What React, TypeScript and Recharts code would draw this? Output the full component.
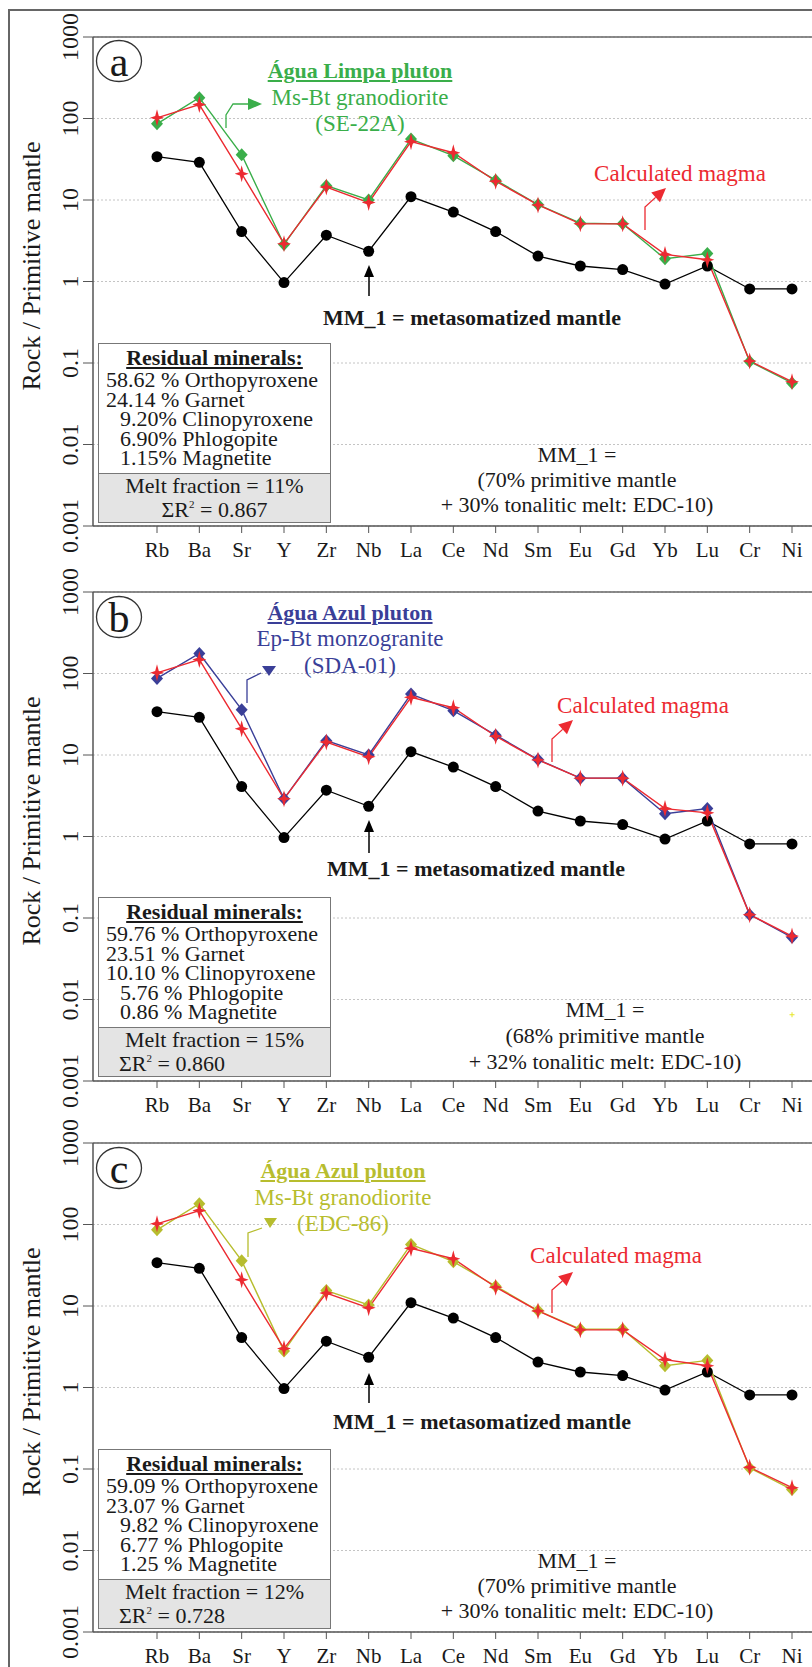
import React from "react";
import { CartesianGrid, Line, LineChart, ReferenceLine, XAxis, YAxis } from "recharts";

const FONT = '"Liberation Serif", "Times New Roman", serif';

const elements = ["Rb", "Ba", "Sr", "Y", "Zr", "Nb", "La", "Ce", "Nd", "Sm", "Eu", "Gd", "Yb", "Lu", "Cr", "Ni"];
const yTicks = [0.001, 0.01, 0.1, 1, 10, 100, 1000];

// MM_1 = metasomatized mantle (same source in all three panels)
const mm1 = [34, 29, 4.1, 0.97, 3.7, 2.35, 11, 7.1, 4.1, 2.05, 1.55, 1.4, 0.93, 1.55, 0.81, 0.81];

// panel a: Agua Limpa pluton, SE-22A
const sampleA = [86, 180, 36, 2.85, 15, 10, 56, 35, 17.5, 8.8, 5.2, 5.1, 1.9, 2.2, 0.104, 0.057];
const calcA = [102, 148, 21, 2.9, 14.4, 9.3, 52, 38, 17, 8.7, 5.1, 5.1, 2.15, 1.85, 0.106, 0.059];

// panel b: Agua Azul pluton, SDA-01
const sampleB = [87, 176, 36, 2.9, 15, 10, 56, 35, 17.5, 8.8, 5.2, 5.2, 1.9, 2.2, 0.11, 0.058];
const calcB = [102, 148, 21, 2.9, 14.4, 9.5, 51, 38, 17, 8.7, 5.2, 5.2, 2.2, 1.95, 0.11, 0.06];
const strayB = [null, null, null, null, null, null, null, null, null, null, null, null, null, null, null, 0.0065];

// panel c: Agua Azul pluton, EDC-86
const sampleC = [86, 180, 36, 2.8, 15.5, 10.3, 57, 35, 17.5, 8.8, 5.2, 5.2, 1.85, 2.15, 0.103, 0.056];
const calcC = [102, 148, 21, 3.0, 14.4, 9.5, 51, 38, 17, 8.7, 5.1, 5.1, 2.2, 1.85, 0.105, 0.059];

type Pt = number[];
interface PanelCfg {
  top: number;
  letter: string;
  letterY: number;
  color: string;
  sample: number[];
  calc: number[];
  stray?: (number | null)[];
  title: string;
  rock: string;
  code: string;
  titleX: number;
  titleYs: number[];
  samplePath: Pt[];
  sampleHead: Pt[];
  calcPos: Pt;
  calcPath: Pt[];
  mmPos: Pt;
  mmArrow: Pt[];
  boxTop: number;
  residual: { text: string; indent: boolean }[];
  melt: string;
  r2: string;
  r2Left: boolean;
  compX: number;
  compYs: number[];
  comp: string[];
}

const panels: PanelCfg[] = [
  {
    top: 37, letter: "a", letterY: 24, color: "#3aae4a", sample: sampleA, calc: calcA,
    title: "Água Limpa pluton", rock: "Ms-Bt granodiorite", code: "(SE-22A)", titleX: 360, titleYs: [34, 60, 86],
    samplePath: [[226, 91], [226, 78], [233, 67], [248, 67]], sampleHead: [[248, 61], [248, 73], [262, 67]],
    calcPos: [680, 136], calcPath: [[645, 193], [645, 170], [666, 151]],
    mmPos: [472, 281], mmArrow: [[369, 259], [369, 228]], boxTop: 306,
    residual: [
      { text: "58.62 % Orthopyroxene", indent: false },
      { text: "24.14 % Garnet", indent: false },
      { text: "9.20% Clinopyroxene", indent: true },
      { text: "6.90% Phlogopite", indent: true },
      { text: "1.15% Magnetite", indent: true },
    ],
    melt: "11", r2: "0.867", r2Left: false,
    compX: 577, compYs: [418, 443, 468], comp: ["MM_1 =", "(70% primitive mantle", "+ 30% tonalitic melt: EDC-10)"],
  },
  {
    top: 592, letter: "b", letterY: 25, color: "#3a3f98", sample: sampleB, calc: calcB, stray: strayB,
    title: "Água Azul pluton", rock: "Ep-Bt monzogranite", code: "(SDA-01)", titleX: 350, titleYs: [21, 46, 73],
    samplePath: [[247, 111], [247, 88], [261, 81]], sampleHead: [[262, 74], [276, 74], [269, 84]],
    calcPos: [643, 113], calcPath: [[552, 170], [552, 147], [573, 128]],
    mmPos: [476, 277], mmArrow: [[369, 261], [369, 228]], boxTop: 305,
    residual: [
      { text: "59.76 % Orthopyroxene", indent: false },
      { text: "23.51 % Garnet", indent: false },
      { text: "10.10 % Clinopyroxene", indent: false },
      { text: "5.76 % Phlogopite", indent: true },
      { text: "0.86 % Magnetite", indent: true },
    ],
    melt: "15", r2: "0.860", r2Left: true,
    compX: 605, compYs: [418, 444, 470], comp: ["MM_1 =", "(68% primitive mantle", "+ 32% tonalitic melt: EDC-10)"],
  },
  {
    top: 1143, letter: "c", letterY: 25, color: "#b7bd2e", sample: sampleC, calc: calcC,
    title: "Água Azul pluton", rock: "Ms-Bt granodiorite", code: "(EDC-86)", titleX: 343, titleYs: [28, 54, 80],
    samplePath: [[248, 114], [248, 90], [262, 85]], sampleHead: [[264, 75], [277, 75], [270, 85]],
    calcPos: [616, 112], calcPath: [[552, 170], [552, 147], [573, 129]],
    mmPos: [482, 279], mmArrow: [[369, 260], [369, 230]], boxTop: 306,
    residual: [
      { text: "59.09 % Orthopyroxene", indent: false },
      { text: "23.07 % Garnet", indent: false },
      { text: "9.82 % Clinopyroxene", indent: true },
      { text: "6.77 % Phlogopite", indent: true },
      { text: "1.25 % Magnetite", indent: true },
    ],
    melt: "12", r2: "0.728", r2Left: true,
    compX: 577, compYs: [418, 443, 468], comp: ["MM_1 =", "(70% primitive mantle", "+ 30% tonalitic melt: EDC-10)"],
  },
];

const RED = "#ec2a31";

const circleDot = (p: any) =>
  p.cy == null ? <g key={p.index} /> : <circle key={p.index} cx={p.cx} cy={p.cy} r={5.5} fill="#000" />;

const diamondDot = (color: string) => (p: any) => {
  if (p.cy == null) return <g key={p.index} />;
  const { cx, cy } = p;
  return <polygon key={p.index} points={`${cx},${cy - 6.5} ${cx + 6},${cy} ${cx},${cy + 6.5} ${cx - 6},${cy}`} fill={color} />;
};

const starDot = (p: any) => {
  if (p.cy == null) return <g key={p.index} />;
  const { cx, cy } = p;
  const a = 8.5, s = 7, b = 1.8;
  const pts = [
    [cx, cy - a], [cx + b, cy - b], [cx + s, cy], [cx + b, cy + b],
    [cx, cy + a], [cx - b, cy + b], [cx - s, cy], [cx - b, cy - b],
  ].map((q) => q.join(",")).join(" ");
  return <polygon key={p.index} points={pts} fill={RED} />;
};

const crossDot = (p: any) => {
  if (p.cy == null || p.payload.stray == null) return <g key={p.index} />;
  const { cx, cy } = p;
  return (
    <g key={p.index} stroke="#e6e62a" strokeWidth={1}>
      <line x1={cx - 2.5} y1={cy} x2={cx + 2.5} y2={cy} />
      <line x1={cx} y1={cy - 2.5} x2={cx} y2={cy + 2.5} />
    </g>
  );
};

const XTick = (p: any) => (
  <text x={p.x} y={p.y + 15} textAnchor="middle" dominantBaseline="central" fontSize={21} fontFamily={FONT} fill="#1a1a1a">
    {p.payload.value}
  </text>
);

const YTick = (p: any) => {
  const x = p.x - 11;
  return (
    <text x={x} y={p.y} transform={`rotate(-90 ${x} ${p.y})`} textAnchor="middle" dominantBaseline="central" fontSize={24} fontFamily={FONT} fill="#1a1a1a">
      {String(p.payload.value)}
    </text>
  );
};

function arrowParts(pts: Pt[], len: number, half: number) {
  const [x1, y1] = pts[pts.length - 2];
  const [x2, y2] = pts[pts.length - 1];
  const d = Math.hypot(x2 - x1, y2 - y1);
  const ux = (x2 - x1) / d, uy = (y2 - y1) / d;
  const bx = x2 - ux * len, by = y2 - uy * len;
  const line = [...pts.slice(0, -1), [bx, by]];
  const head = [[x2, y2], [bx - uy * half, by + ux * half], [bx + uy * half, by - ux * half]];
  return { line, head };
}

const ptsStr = (pts: Pt[]) => pts.map((q) => q.join(",")).join(" ");

function Panel({ cfg }: { cfg: PanelCfg }) {
  const T = cfg.top;
  const rows = elements.map((el, i) => ({
    el,
    mm1: mm1[i],
    sample: cfg.sample[i],
    calc: cfg.calc[i],
    stray: cfg.stray ? cfg.stray[i] : null,
  }));
  const at = (x: number, y: number, extra: React.CSSProperties = {}): React.CSSProperties => ({
    position: "absolute", left: x, top: T + y, transform: "translate(-50%,-50%)", whiteSpace: "nowrap", lineHeight: 1, ...extra,
  });
  const red = arrowParts(cfg.calcPath, 14, 6.5);
  const black = arrowParts(cfg.mmArrow, 12, 5);

  return (
    <>
      <div style={{ position: "absolute", left: 0, top: T - 40 }}>
        <LineChart width={860} height={574} data={rows} margin={{ top: 40, right: 0, bottom: 0, left: 0 }}>
          <CartesianGrid vertical={false} stroke="#c4c4c4" strokeDasharray="2 2" />
          <XAxis
            dataKey="el"
            scale="point"
            padding={{ left: 64, right: 68 }}
            interval={0}
            height={45}
            tickSize={7}
            axisLine={{ stroke: "#555", strokeWidth: 1.5 }}
            tickLine={{ stroke: "#555" }}
            tick={<XTick />}
          />
          <YAxis
            type="number"
            scale="log"
            domain={[0.001, 1000]}
            ticks={yTicks}
            allowDataOverflow
            interval={0}
            width={93}
            tickSize={10}
            axisLine={{ stroke: "#555", strokeWidth: 1.5 }}
            tickLine={{ stroke: "#555" }}
            tick={<YTick />}
          />
          <ReferenceLine y={1000} stroke="#666" strokeWidth={1.5} />
          <Line dataKey="mm1" stroke="#000" strokeWidth={1.3} dot={circleDot} isAnimationActive={false} />
          <Line dataKey="sample" stroke={cfg.color} strokeWidth={1.4} dot={diamondDot(cfg.color)} isAnimationActive={false} />
          <Line dataKey="calc" stroke={RED} strokeWidth={1.4} dot={starDot} isAnimationActive={false} />
          {cfg.stray && <Line dataKey="stray" stroke="none" dot={crossDot} isAnimationActive={false} />}
        </LineChart>
      </div>

      <svg width={812} height={500} style={{ position: "absolute", left: 0, top: T, overflow: "visible" }}>
        <ellipse cx={119} cy={cfg.letterY} rx={22.5} ry={20.5} fill="none" stroke="#333" strokeWidth={1.3} />
        <polyline points={ptsStr(cfg.samplePath)} fill="none" stroke={cfg.color} strokeWidth={1.3} />
        <polygon points={ptsStr(cfg.sampleHead)} fill={cfg.color} />
        <polyline points={ptsStr(red.line)} fill="none" stroke={RED} strokeWidth={1.3} />
        <polygon points={ptsStr(red.head)} fill={RED} />
        <polyline points={ptsStr(black.line)} fill="none" stroke="#000" strokeWidth={1.5} />
        <polygon points={ptsStr(black.head)} fill="#000" />
      </svg>

      {/* y-axis title */}
      <div style={at(32, 229, { fontSize: 26, transform: "translate(-50%,-50%) rotate(-90deg)" })}>Rock / Primitive mantle</div>

      <div style={at(119, cfg.letterY + 1, { fontSize: 42 })}>{cfg.letter}</div>

      <div style={at(cfg.titleX, cfg.titleYs[0], { fontSize: 22, fontWeight: "bold", color: cfg.color, textDecoration: "underline" })}>
        {cfg.title}
      </div>
      <div style={at(cfg.titleX, cfg.titleYs[1], { fontSize: 23, color: cfg.color })}>{cfg.rock}</div>
      <div style={at(cfg.titleX, cfg.titleYs[2], { fontSize: 23, color: cfg.color })}>{cfg.code}</div>

      <div style={at(cfg.calcPos[0], cfg.calcPos[1], { fontSize: 23, color: RED })}>Calculated magma</div>

      <div style={at(cfg.mmPos[0], cfg.mmPos[1], { fontSize: 22, fontWeight: "bold" })}>MM_1 = metasomatized mantle</div>

      {cfg.comp.map((t, i) => (
        <div key={i} style={at(cfg.compX, cfg.compYs[i], { fontSize: 22 })}>{t}</div>
      ))}

      <div
        style={{
          position: "absolute", left: 98, top: T + cfg.boxTop, width: 233, height: 131, boxSizing: "border-box",
          border: "1.5px solid #777", background: "#fff", fontSize: 22, lineHeight: "19.5px", paddingTop: 2,
        }}
      >
        <div style={{ textAlign: "center", fontWeight: "bold", lineHeight: "24px" }}>
          <span style={{ textDecoration: "underline" }}>Residual minerals:</span>
        </div>
        {cfg.residual.map((r, i) => (
          <div key={i} style={{ paddingLeft: r.indent ? 21 : 7, whiteSpace: "nowrap" }}>{r.text}</div>
        ))}
      </div>
      <div
        style={{
          position: "absolute", left: 98, top: T + cfg.boxTop + 130, width: 233, height: 50, boxSizing: "border-box",
          border: "1.5px solid #777", background: "#e4e4e4", fontSize: 22, lineHeight: "24px", paddingTop: 0,
        }}
      >
        <div style={{ textAlign: "center", height: 24 }}>Melt fraction = {cfg.melt}%</div>
        <div style={{ textAlign: cfg.r2Left ? "left" : "center", paddingLeft: cfg.r2Left ? 20 : 0, height: 24 }}>
          ΣR<span style={{ fontSize: 11, position: "relative", top: -9, lineHeight: 0 }}>2</span> = {cfg.r2}
        </div>
      </div>
    </>
  );
}

export default function App() {
  return (
    <div style={{ position: "relative", width: 812, height: 1667, overflow: "hidden", background: "#fff", fontFamily: FONT, color: "#1a1a1a" }}>
      <style>{"body{margin:0}"}</style>
      <div style={{ position: "absolute", left: 8, top: 9, width: 900, height: 1800, borderLeft: "2px solid #666", borderTop: "2px solid #666" }} />
      {panels.map((p) => (
        <Panel key={p.letter} cfg={p} />
      ))}
    </div>
  );
}
